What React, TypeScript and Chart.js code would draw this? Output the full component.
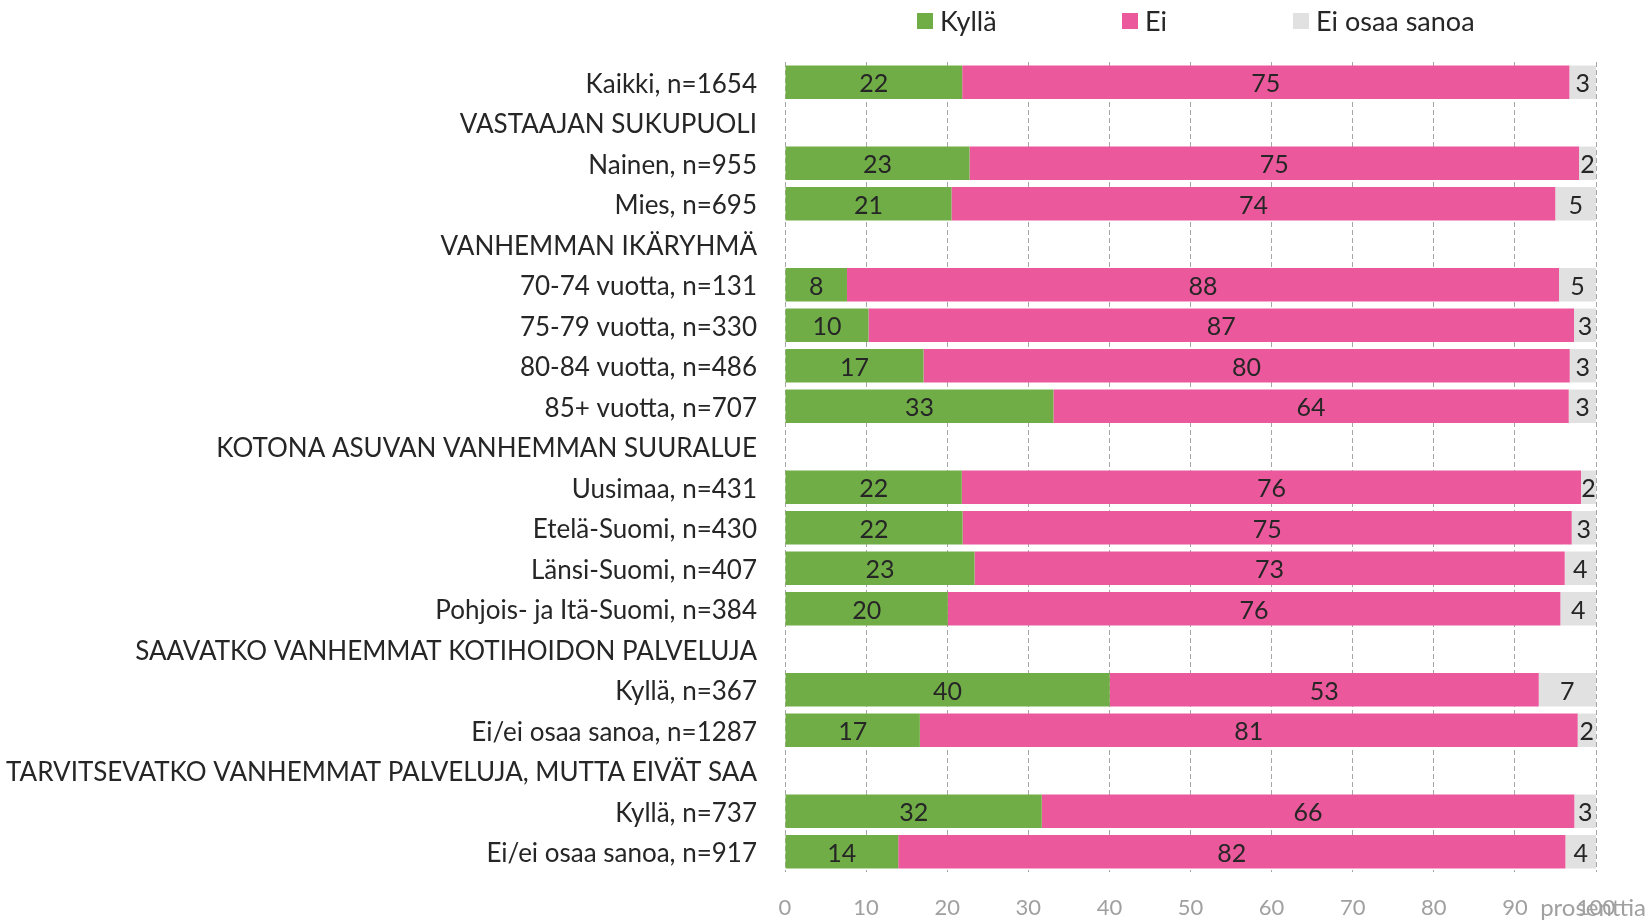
import React, { useEffect, useRef } from "react";
import { Chart, registerables } from "chart.js";

Chart.register(...registerables);

const categories = [
  "Kaikki, n=1654",
  "VASTAAJAN SUKUPUOLI",
  "Nainen, n=955",
  "Mies, n=695",
  "VANHEMMAN IKÄRYHMÄ",
  "70-74 vuotta, n=131",
  "75-79 vuotta, n=330",
  "80-84 vuotta, n=486",
  "85+ vuotta, n=707",
  "KOTONA ASUVAN VANHEMMAN SUURALUE",
  "Uusimaa, n=431",
  "Etelä-Suomi, n=430",
  "Länsi-Suomi, n=407",
  "Pohjois- ja Itä-Suomi, n=384",
  "SAAVATKO VANHEMMAT KOTIHOIDON PALVELUJA",
  "Kyllä, n=367",
  "Ei/ei osaa sanoa, n=1287",
  "TARVITSEVATKO VANHEMMAT PALVELUJA, MUTTA EIVÄT SAA",
  "Kyllä, n=737",
  "Ei/ei osaa sanoa, n=917",
];

const kyllaValues = [21.85, null, 22.75, 20.53, null, 7.64, 10.3, 17.08, 33.1, null, 21.8, 21.9, 23.37, 20.08, null, 40.04, 16.63, null, 31.66, 13.96];
const eiValues = [74.87, null, 75.16, 74.45, null, 87.8, 86.99, 79.68, 63.54, null, 76.35, 75.1, 72.77, 75.53, null, 52.9, 81.11, null, 65.67, 82.27];
const eosValues = [3.28, null, 2.09, 5.02, null, 4.56, 2.71, 3.24, 3.36, null, 1.85, 3.0, 3.86, 4.39, null, 7.06, 2.26, null, 2.67, 3.77];

const seriesNames = ["Kyllä", "Ei", "Ei osaa sanoa"];
const seriesColors = ["#70AD47", "#EB589B", "#E1E1E1"];
const xTickValues = [0, 10, 20, 30, 40, 50, 60, 70, 80, 90, 100];
const axisUnit = "prosenttia";

const FONT = "Lato, 'Open Sans', sans-serif";
const TEXT_COLOR = "#262626";

const valueLabelPlugin = {
  id: "valueLabels",
  afterDatasetsDraw(chart: any) {
    const ctx = chart.ctx;
    ctx.save();
    ctx.font = `25px ${FONT}`;
    ctx.fillStyle = TEXT_COLOR;
    ctx.textAlign = "center";
    ctx.textBaseline = "middle";
    chart.data.datasets.forEach((ds: any, di: number) => {
      const meta = chart.getDatasetMeta(di);
      meta.data.forEach((el: any, i: number) => {
        const v = ds.data[i];
        if (v === null || v === undefined) return;
        const p = el.getProps(["x", "y", "base"], true);
        ctx.fillText(String(Math.round(v)), (p.x + p.base) / 2, p.y + 2);
      });
    });
    ctx.restore();
  },
};

const legendOffsets = [917, 1122, 1293];

const customLegendPlugin = {
  id: "customLegend",
  afterDraw(chart: any) {
    const ctx = chart.ctx;
    ctx.save();
    ctx.font = `27px ${FONT}`;
    ctx.textAlign = "left";
    ctx.textBaseline = "middle";
    chart.data.datasets.forEach((ds: any, i: number) => {
      const x = legendOffsets[i];
      const y = 21;
      ctx.fillStyle = ds.backgroundColor;
      ctx.fillRect(x, y - 8, 16, 16);
      ctx.fillStyle = TEXT_COLOR;
      ctx.fillText(ds.label, x + 23, y + 1);
    });
    // axis unit text
    const xs = chart.scales.x;
    ctx.font = `24px ${FONT}`;
    ctx.fillStyle = "#A0A0A0";
    ctx.textAlign = "right";
    ctx.fillText(axisUnit, chart.width - 4, xs.bottom - 13);
    ctx.restore();
  },
};

export default function App() {
  const canvasRef = useRef<HTMLCanvasElement | null>(null);

  useEffect(() => {
    if (!canvasRef.current) return;
    const chart = new Chart(canvasRef.current, {
      type: "bar",
      data: {
        labels: categories,
        datasets: [
          { label: seriesNames[0], data: kyllaValues, backgroundColor: seriesColors[0] },
          { label: seriesNames[1], data: eiValues, backgroundColor: seriesColors[1] },
          { label: seriesNames[2], data: eosValues, backgroundColor: seriesColors[2] },
        ],
      },
      options: {
        indexAxis: "y",
        responsive: false,
        animation: false,
        layout: { padding: { top: 62, right: 54, bottom: 0, left: 0 } },
        datasets: {
          bar: { barPercentage: 0.825, categoryPercentage: 1, borderWidth: 0 },
        },
        plugins: {
          legend: { display: false },
          tooltip: { enabled: false },
          title: { display: false },
        },
        scales: {
          x: {
            stacked: true,
            min: 0,
            max: 100,
            afterBuildTicks(scale: any) {
              scale.ticks = xTickValues.map((v) => ({ value: v }));
            },
            afterFit(scale: any) {
              scale.height = 49;
            },
            ticks: {
              autoSkip: false,
              maxRotation: 0,
              color: "#A0A0A0",
              font: { family: FONT, size: 22 },
              padding: 23,
            },
            grid: { color: "#A6A6A6", lineWidth: 1, drawTicks: false },
            border: { display: false, dash: [5, 3] },
          },
          y: {
            stacked: true,
            afterFit(scale: any) {
              scale.width = 785;
            },
            ticks: {
              autoSkip: false,
              color: TEXT_COLOR,
              font: { family: FONT, size: 26 },
              padding: 28,
              labelOffset: 2,
            },
            grid: { display: false, drawTicks: false },
            border: { display: false },
          },
        },
      },
      plugins: [valueLabelPlugin, customLegendPlugin],
    });
    return () => chart.destroy();
  }, []);

  return (
    <div style={{ position: "fixed", left: 0, top: 0, width: 1650, height: 921, background: "#fff" }}>
      <canvas ref={canvasRef} width={1650} height={921} />
    </div>
  );
}
